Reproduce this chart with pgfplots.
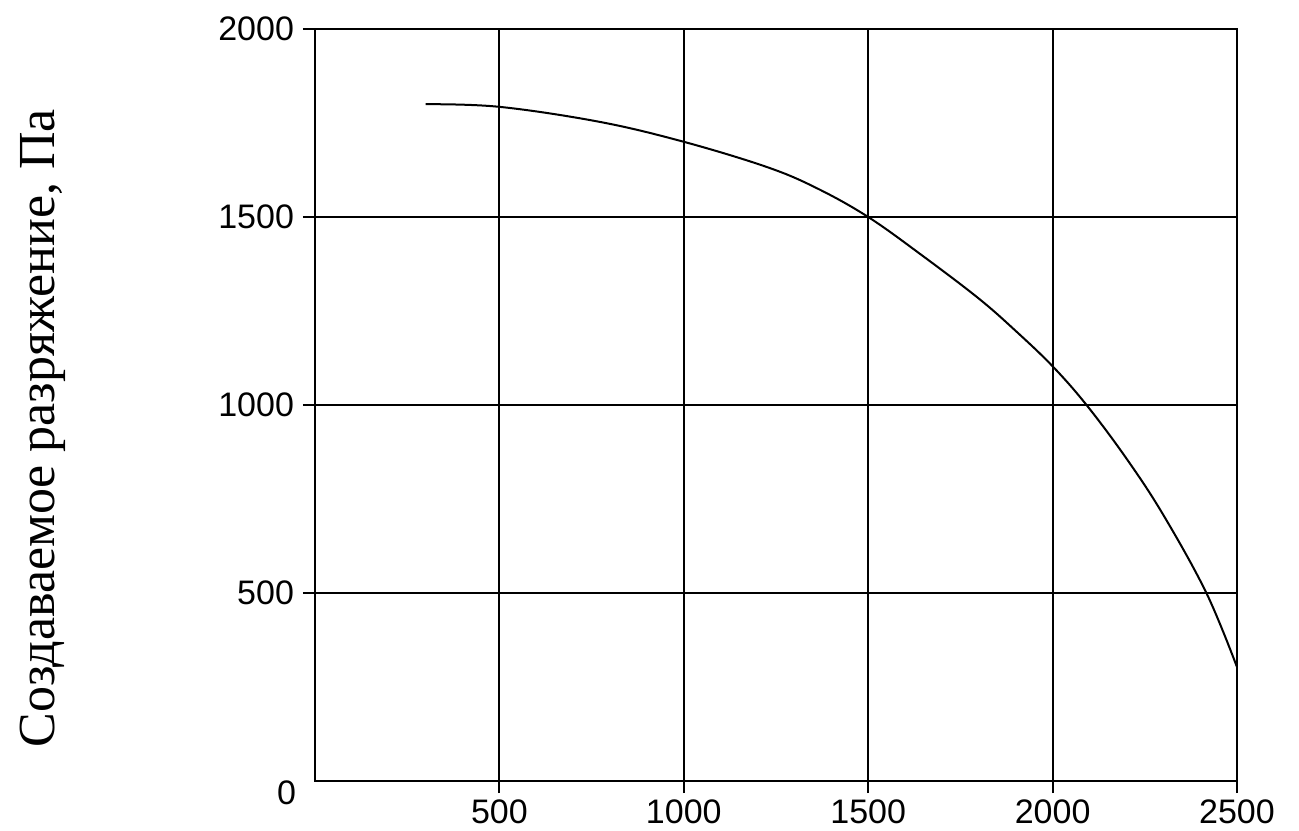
\documentclass[border=0pt]{standalone}
\usepackage{fontspec}
\setmainfont{Liberation Serif}
\newfontfamily\ticks{Liberation Sans}
\usepackage{pgfplots}
\pgfplotsset{compat=1.18}
\usetikzlibrary{calc}

\begin{document}
\begin{tikzpicture}
\begin{axis}[
    name=ax,
    scale only axis,
    width=461pt, height=376pt,
    xmin=0, xmax=2500,
    ymin=0, ymax=2000,
    xtick={500,1000,1500,2000,2500},
    ytick={500,1000,1500,2000},
    extra y ticks={0},
    extra y tick style={major tick length=0pt, yticklabel style={yshift=-6pt, xshift=-5pt}},
    xtick pos=bottom, ytick pos=left,
    tick align=outside,
    major tick length=6pt,
    grid=major,
    grid style={black, line width=0.9pt},
    axis line style={black, line width=0.9pt},
    every tick/.style={black, line width=0.9pt},
    scaled ticks=false,
    /pgf/number format/1000 sep={},
    /pgf/number format/assume math mode=true,
    tick label style={font=\ticks\fontsize{17}{20}\selectfont},
    yticklabel style={xshift=-1pt},
    ylabel={Создаваемое разряжение, Па},
    ylabel style={font=\fontsize{26}{31}\selectfont, at={(axis description cs:-0.295,0.469)}, anchor=center},
]
\addplot[black, line width=1pt, smooth, tension=0.6] coordinates {
    (300,1800) (500,1793) (772,1753) (1000,1700) (1225,1633) (1360,1577)
    (1500,1500) (1650,1395) (1800,1283) (1900,1197) (2000,1103) (2092,1000)
    (2200,858) (2300,708) (2417,500) (2500,303)
};
\end{axis}
\pgfresetboundingbox
\path ($(ax.south west)+(-157.5pt,-24.5pt)$) rectangle ($(ax.north east)+(31pt,14.5pt)$);
\end{tikzpicture}
\end{document}
